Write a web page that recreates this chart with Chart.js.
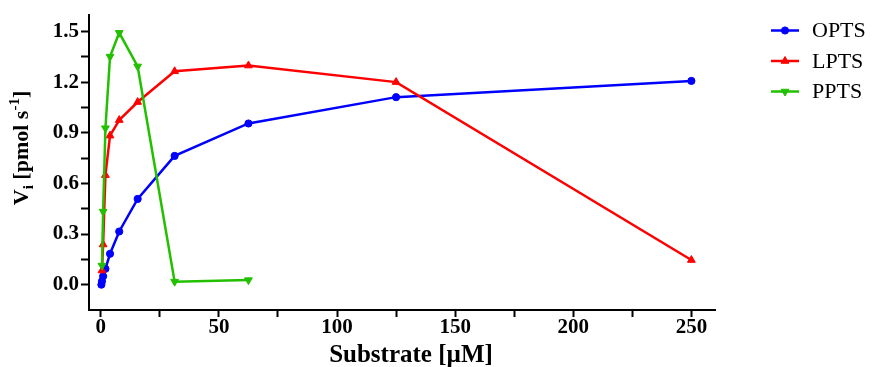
<!DOCTYPE html>
<html>
<head>
<meta charset="utf-8">
<script src="https://cdn.jsdelivr.net/npm/chart.js@4.4.1/dist/chart.umd.min.js"></script>
<style>
  html, body { margin: 0; padding: 0; background: #fff; }
  #wrap { width: 872px; height: 367px; position: relative; }
</style>
</head>
<body>
<div id="wrap"><canvas id="chart"></canvas></div>
<script>
// ── Data ───────────────────────────────────────────────────────
var optsX = [0.24, 0.49, 0.98, 1.95, 3.9, 7.8, 15.6, 31.25, 62.5, 125, 250];
var optsY = [0.0, 0.02, 0.05, 0.094, 0.183, 0.315, 0.508, 0.763, 0.955, 1.111, 1.207];

var lptsX = [0.49, 0.98, 1.95, 3.9, 7.8, 15.6, 31.25, 62.5, 125, 250];
var lptsY = [0.084, 0.238, 0.649, 0.883, 0.975, 1.082, 1.264, 1.298, 1.2, 0.146];

var pptsX = [0.49, 0.98, 1.95, 3.9, 7.8, 15.6, 31.25, 62.5];
var pptsY = [0.113, 0.433, 0.927, 1.351, 1.492, 1.293, 0.018, 0.027];

var xTicks = [0, 25, 50, 75, 100, 125, 150, 175, 200, 225, 250];
var yTicks = [0, 0.15, 0.3, 0.45, 0.6, 0.75, 0.9, 1.05, 1.2, 1.35, 1.5];

var SERIF = "'Liberation Serif', 'Times New Roman', serif";

function pts(xs, ys) {
    return xs.map(function (x, i) { return { x: x, y: ys[i] }; });
}

var series = [
    { label: 'OPTS', data: pts(optsX, optsY), color: '#0000FF', style: 'circle',   rot: 0,   r: 3.6, order: 2 },
    { label: 'LPTS', data: pts(lptsX, lptsY), color: '#FF0000', style: 'triangle', rot: 0,   r: 4.5, order: 1 },
    { label: 'PPTS', data: pts(pptsX, pptsY), color: '#22C000', style: 'triangle', rot: 180, r: 4.5, order: 0 }
];

var datasets = series.map(function (s) {
    return {
        label: s.label,
        data: s.data,
        borderColor: s.color,
        backgroundColor: s.color,
        borderWidth: 2.5,
        pointStyle: s.style,
        pointRotation: s.rot,
        pointRadius: s.r,
        pointBorderWidth: 1,
        tension: 0,
        fill: false,
        order: s.order
    };
});

// ── Titles + legend drawn on the canvas ────────────────────────
var decor = {
    id: 'decor',
    afterDraw: function (chart) {
        var ctx = chart.ctx;
        ctx.save();
        ctx.fillStyle = '#000';

        // x title
        ctx.font = 'bold 25px ' + SERIF;
        ctx.textAlign = 'center';
        ctx.textBaseline = 'alphabetic';
        ctx.fillText('Substrate [\u00B5M]', 411, 362);

        // y title with subscript / superscript
        var parts = [
            { t: 'V',       size: 22, dy: 0 },
            { t: 'i',       size: 15, dy: 5 },
            { t: ' [pmol s', size: 22, dy: 0 },
            { t: '-1',      size: 15, dy: -9 },
            { t: ']',       size: 22, dy: 0 }
        ];
        var total = 0;
        parts.forEach(function (p) {
            ctx.font = 'bold ' + p.size + 'px ' + SERIF;
            p.w = ctx.measureText(p.t).width;
            total += p.w;
        });
        ctx.translate(28, 148);
        ctx.rotate(-Math.PI / 2);
        ctx.textAlign = 'left';
        var x = -total / 2;
        parts.forEach(function (p) {
            ctx.font = 'bold ' + p.size + 'px ' + SERIF;
            ctx.fillText(p.t, x, p.dy);
            x += p.w;
        });
        ctx.restore();

        // legend: line + marker + label
        ctx.save();
        var rows = [30.5, 61, 91.5];
        series.forEach(function (s, i) {
            var y = rows[i];
            ctx.strokeStyle = s.color;
            ctx.fillStyle = s.color;
            ctx.lineWidth = 2.5;
            ctx.beginPath();
            ctx.moveTo(771, y);
            ctx.lineTo(799, y);
            ctx.stroke();
            ctx.lineWidth = 1;
            Chart.helpers.drawPoint(ctx, { pointStyle: s.style, rotation: s.rot, radius: s.r, borderWidth: 1 }, 785, y);
            ctx.fillStyle = '#000';
            ctx.font = '22px ' + SERIF;
            ctx.textAlign = 'left';
            ctx.textBaseline = 'middle';
            ctx.fillText(s.label, 812, y + 1);
        });
        ctx.restore();
    }
};

new Chart(document.getElementById('chart'), {
    type: 'line',
    data: { datasets: datasets },
    plugins: [decor],
    options: {
        responsive: true,
        maintainAspectRatio: false,
        animation: false,
        layout: { padding: { top: 11, right: 157, left: 0, bottom: 0 } },
        plugins: {
            legend: { display: false },
            tooltip: { enabled: false },
            title: { display: false }
        },
        scales: {
            x: {
                type: 'linear',
                min: -5,
                max: 260,
                afterFit: function (scale) { scale.height = 57; },
                afterBuildTicks: function (scale) {
                    scale.ticks = xTicks.map(function (v) { return { value: v }; });
                },
                grid: { display: true, drawOnChartArea: false, drawTicks: true, tickLength: 7, tickWidth: 2, tickColor: '#000' },
                border: { display: true, color: '#000', width: 2 },
                ticks: {
                    autoSkip: false,
                    maxRotation: 0,
                    padding: -2,
                    color: '#000',
                    font: { family: SERIF, size: 21, weight: 'bold' },
                    callback: function (v) { return v % 50 === 0 ? String(v) : ''; }
                }
            },
            y: {
                type: 'linear',
                min: -0.15,
                max: 1.6,
                afterFit: function (scale) { scale.width = 89; },
                afterBuildTicks: function (scale) {
                    scale.ticks = yTicks.map(function (v) { return { value: v }; });
                },
                grid: { display: true, drawOnChartArea: false, drawTicks: true, tickLength: 8, tickWidth: 2, tickColor: '#000' },
                border: { display: true, color: '#000', width: 2 },
                ticks: {
                    autoSkip: false,
                    padding: 2,
                    color: '#000',
                    font: { family: SERIF, size: 21, weight: 'bold' },
                    callback: function (v) {
                        var k = Math.round(v / 0.15);
                        return k % 2 === 0 ? v.toFixed(1) : '';
                    }
                }
            }
        }
    }
});
</script>
</body>
</html>
